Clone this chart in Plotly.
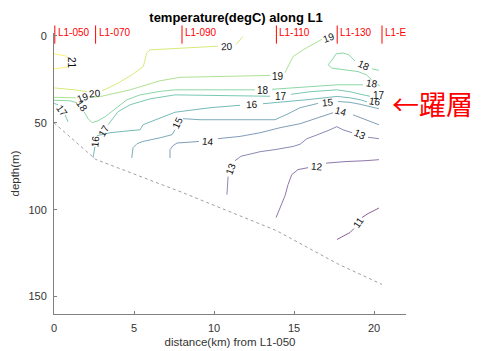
import plotly.graph_objects as go
from plotly.colors import sample_colorscale

# ---------------- data (distance km, depth m) ----------------
stations = ["L1-050", "L1-070", "L1-090", "L1-110", "L1-130", "L1-E"]
station_km = [0.05, 2.6, 8.0, 13.9, 17.7, 20.5]
bottom_km = [0.0, 2.6, 8.0, 13.9, 17.7, 20.5]
bottom_depth = [50, 71, 90, 112, 131, 143]

# isotherm traces (None = gap where the contour label sits)
t21_km = [0.0, 0.75, 0.94, None, 0.94, 0.75, 0.0]
t21_m = [10.3, 11.5, 13.2, None, 17.2, 18.1, 18.9]

t20_km = [0.0, 1.31, 2.06, None, 3.0, 3.88, 4.86, 5.38, 5.58, 5.69, 5.79, 6.0, 7.88, 10.25, None, 11.38, 11.63, 11.81]
t20_m = [29.9, 31.0, 32.1, None, 31.6, 27.8, 22.4, 18.9, 17.6, 13.8, 9.9, 8.0, 7.1, 5.9, None, 4.9, 2.3, 0.3]

t19_km = [0.0, 1.38, None, 2.25, 2.88, 4.75, 6.63, 7.88, 11.63, 13.5, None, 14.44, 14.75, 14.94, 15.56, 16.44, 16.75]
t19_m = [35.3, 35.6, None, 35.3, 34.9, 31.0, 25.8, 23.8, 23.0, 22.7, None, 21.1, 15.7, 11.9, 8.0, 3.4, 1.9]

t18_km = [0.0, 1.0, 1.44, None, 1.88, 2.13, 2.38, 2.75, 3.19, 3.5, 4.13, 4.56, 5.38, 6.63, 7.56, 10.38, 12.56, None,
          13.63, 15.38, 17.69, 19.31, None, 20.22, 20.38]
t18_m = [37.0, 37.3, 38.5, None, 43.6, 47.6, 49.9, 48.8, 46.5, 44.2, 39.6, 36.7, 33.9, 31.9, 31.0, 31.0, 31.0, None,
         30.7, 29.6, 28.1, 28.1, None, 28.0, 28.7]

t18b_km = [19.86, 19.54, 19.0, 18.06, 17.36, 17.13, 17.38, 17.63, 18.06, 18.44, 18.81, None, 19.88, 20.31]
t18b_m = [25.3, 22.4, 20.5, 19.1, 18.5, 16.6, 13.8, 10.3, 9.8, 10.9, 14.4, None, 18.9, 19.8]

t17a_km = [0.0, 0.25, None, 0.69, 0.88]
t17a_m = [38.8, 39.6, None, 45.4, 49.4]

t17b_km = [3.38, 3.69, 4.0, 4.75, 6.0, 7.56, 9.75, 11.63, 13.5, None, 14.81, 16.0, 17.69, 18.5, 19.13, 19.75]
t17b_m = [51.1, 47.1, 43.6, 39.6, 36.2, 33.9, 34.2, 34.4, 34.7, None, 33.6, 32.1, 31.0, 32.1, 33.5, 34.7]

t16_km = [2.44, 2.5, 2.56, None, 2.69, 3.5, 4.75, 5.38, 5.56, 6.63, 7.56, 9.75, 11.63, None, 13.06, 14.44, 15.81,
          17.69, 18.5, 19.13, 19.56]
t16_m = [70.0, 65.4, 63.7, None, 57.4, 55.7, 54.5, 54.0, 51.1, 47.1, 43.9, 41.3, 39.9, None, 39.0, 37.9, 36.7,
         34.8, 35.6, 36.7, 37.9]

t15_km = [4.86, 4.94, 5.19, 5.56, 6.63, 7.38, 7.56, None, 8.06, 9.13, 11.63, 13.81, 14.63, 15.38, 16.5, None,
          17.75, 18.5, 19.13, 19.75, 20.31]
t15_m = [70.2, 64.3, 62.0, 60.7, 58.6, 56.8, 54.0, None, 47.6, 48.2, 48.2, 48.2, 44.8, 41.3, 38.8, None,
         37.7, 38.2, 39.3, 40.8, 41.9]

t14_km = [7.25, 7.25, 7.44, 7.69, 8.5, 9.06, None, 10.25, 11.63, 12.88, 14.13, 15.38, 16.5, 17.44, None, 18.69, 19.44, 20.31]
t14_m = [70.2, 65.4, 63.1, 61.6, 61.1, 60.7, None, 59.1, 57.8, 55.7, 52.8, 50.5, 47.1, 44.2, None, 45.4, 48.2, 51.1]

t13_km = [10.81, 10.84, 10.88, None, 11.31, 11.69, 12.25, 12.88, 13.81, 14.94, 15.38, 15.81, 16.31, 16.81, 17.25,
          17.67, 18.06, 18.63, None, 19.63, 20.31]
t13_m = [91.3, 85.5, 80.9, None, 71.8, 69.2, 68.0, 66.6, 65.4, 63.6, 62.3, 59.1, 57.4, 55.7, 54.0,
         52.2, 54.0, 55.7, None, 58.3, 59.1]

t12_km = [13.88, 14.13, 14.44, 14.63, 14.86, 15.25, 15.88, None, 17.0, 18.19, 19.44, 20.31]
t12_m = [104.5, 98.7, 91.9, 85.5, 79.8, 76.9, 75.8, None, 73.2, 72.3, 71.8, 71.2]

t11_km = [17.69, 18.19, 18.5, 18.75, None, 19.25, 19.63, 20.0, 20.31]
t11_m = [117.1, 114.8, 113.1, 110.8, None, 104.5, 102.2, 100.5, 99.0]

# contour labels
lab_text = ["21", "20", "20", "19", "19", "19", "18", "18", "18", "18", "17", "17", "17", "17",
            "16", "16", "16", "15", "15", "14", "14", "13", "13", "12", "11"]
lab_km = [1.06, 2.56, 10.81, 1.81, 14.0, 17.19, 1.72, 13.06, 19.88, 19.38, 0.48, 3.13, 14.19, 20.31,
          2.56, 12.36, 20.06, 7.75, 17.13, 9.63, 17.94, 11.06, 19.13, 16.42, 19.03]
lab_m = [15.5, 33.0, 6.0, 35.6, 23.2, 1.1, 40.2, 31.3, 27.3, 16.9, 43.1, 54.5, 35.0, 34.2,
         60.6, 39.6, 37.6, 50.0, 38.5, 60.6, 43.6, 76.4, 56.8, 74.9, 107.4]
lab_angle = [90, -5, -3, -20, 0, -20, 55, 0, 10, 25, 55, -60, 0, 0,
             -85, -3, 10, -65, -5, 5, 15, -70, 25, 5, -55]

lines = [
    (21, t21_km, t21_m), (20, t20_km, t20_m), (19, t19_km, t19_m),
    (18, t18_km, t18_m), (18, t18b_km, t18b_m), (17, t17a_km, t17a_m),
    (17, t17b_km, t17b_m), (16, t16_km, t16_m), (15, t15_km, t15_m),
    (14, t14_km, t14_m), (13, t13_km, t13_m), (12, t12_km, t12_m),
    (11, t11_km, t11_m),
]


def level_color(t, lighten=0.38):
    c = sample_colorscale("Viridis", [(t - 11) / 10.0])[0]
    r, g, b = [float(v) for v in c[c.index("(") + 1:c.index(")")].split(",")]
    r, g, b = [int(round(v + (255 - v) * lighten)) for v in (r, g, b)]
    return f"rgb({r},{g},{b})"


fig = go.Figure()

# seafloor
fig.add_trace(go.Scatter(x=bottom_km, y=bottom_depth, mode="lines",
                         line=dict(color="#a0a0a0", width=1, dash="dot"), hoverinfo="skip"))

for lev, xs, ys in lines:
    fig.add_trace(go.Scatter(x=xs, y=ys, mode="lines", connectgaps=False,
                             line=dict(color=level_color(lev), width=1), hoverinfo="skip"))

# station markers
fig.add_trace(go.Scatter(x=station_km, y=[-0.8] * len(station_km), mode="markers", cliponaxis=False,
                         marker=dict(symbol="line-ns", size=13, line=dict(color="red", width=1)),
                         hoverinfo="skip"))

annotations = []
for name, sx in zip(stations, station_km):
    annotations.append(dict(x=sx, y=1.0, xref="x", yref="paper", text=name, showarrow=False,
                            xanchor="left", yanchor="middle", xshift=1, yshift=1,
                            font=dict(size=10, color="red", family="Liberation Sans, Arial")))

for t, x, y, a in zip(lab_text, lab_km, lab_m, lab_angle):
    annotations.append(dict(x=x, y=y, xref="x", yref="y", text=t, showarrow=False, textangle=a,
                            xanchor="center", yanchor="middle", borderpad=0,
                            font=dict(size=10, color="#111", family="Liberation Sans, Arial")))

annotations.append(dict(x=(390 - 54) / 352, y=(314 - 103) / 281, xref="paper", yref="paper",
                        text="←躍層", showarrow=False, xanchor="left", yanchor="middle",
                        font=dict(size=27, color="#ff0000", family="Noto Sans CJK JP")))

axis_common = dict(showline=True, linecolor="#808080", linewidth=1, ticks="inside", ticklen=3,
                   tickcolor="#808080", showgrid=False, zeroline=False, automargin=False,
                   ticklabelstandoff=4,
                   tickfont=dict(size=11, color="#333", family="Liberation Sans, Arial"))

# the page body adds an 8px offset, so the figure is 8px smaller and margins shifted
W, H, OFF = 481 - 8, 351 - 8, 8
fig.update_layout(
    width=W, height=H,
    margin=dict(l=54 - OFF, r=75, t=33 - OFF, b=37, autoexpand=False),
    plot_bgcolor="white", paper_bgcolor="white",
    showlegend=False,
    title=dict(text="<b>temperature(degC) along L1</b>", x=(236 - OFF) / W, xanchor="center",
               y=1 - (17 - OFF) / H, yanchor="middle", xref="container", yref="container",
               font=dict(size=13, color="#000", family="Liberation Sans, Arial")),
    xaxis=dict(range=[0, 22], tickvals=[0, 5, 10, 15, 20],
               title=dict(text="distance(km) from L1-050", standoff=4,
                          font=dict(size=11.5, color="#333", family="Liberation Sans, Arial")),
               **axis_common),
    yaxis=dict(range=[160, -1.7], tickvals=[0, 50, 100, 150],
               title=dict(text="depth(m)", standoff=6,
                          font=dict(size=11.5, color="#333", family="Liberation Sans, Arial")),
               **axis_common),
    annotations=annotations,
)

fig.write_html("out.html")
